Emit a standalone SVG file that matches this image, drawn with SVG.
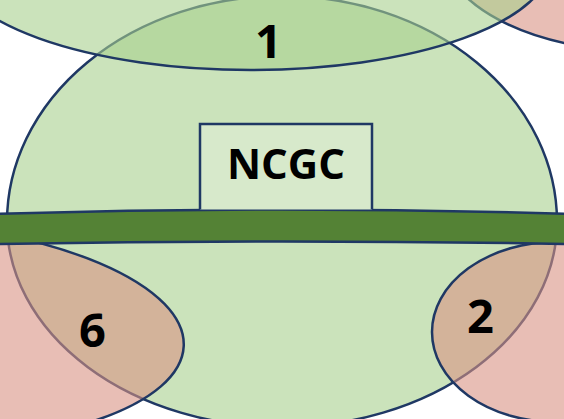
<svg xmlns="http://www.w3.org/2000/svg" width="564" height="419" viewBox="0 0 564 419">
<style>
.g{fill:#A9D18E;fill-opacity:0.6;stroke:#1F3864;stroke-width:2.5}
.r{fill:#D99384;fill-opacity:0.6;stroke:#1F3864;stroke-width:2.5}
.t{font-family:"Open Sans","Liberation Sans",sans-serif;font-weight:bold;fill:#000;text-anchor:middle}
</style>
<rect width="564" height="419" fill="#fff"/>
<g id="main-set">
<path class="g" d="M 7,222 A 275 226 0 0 1 557,222 A 275 205 0 0 1 7,222 Z"/>
</g>
<g id="set-topright">
<ellipse class="r" cx="640" cy="-56" rx="200" ry="107"/>
</g>
<g id="set-1">
<ellipse class="g" cx="251" cy="-38" rx="300" ry="108"/>
<text class="t" x="268.5" y="58" font-size="47">1</text>
</g>
<g id="set-6">
<ellipse class="r" cx="-116" cy="333" rx="300" ry="112" transform="rotate(2.5 -116 333)"/>
<text class="t" x="92.5" y="347" font-size="47">6</text>
</g>
<g id="set-2">
<ellipse class="r" cx="556" cy="332" rx="124" ry="90"/>
<text class="t" x="480.5" y="333" font-size="47">2</text>
</g>
<g id="bar">
<path d="M -5,214 Q 282,205 569,214 L 569,244 Q 282,239 -5,244 Z" fill="#548235" stroke="#1F3864" stroke-width="2.5"/>
</g>
<g id="ncgc">
<path d="M 200,209.5 L 200,124 L 372,124 L 372,209.5" fill="#D7E9CB" stroke="#1F3864" stroke-width="2.5"/>
<text class="t" x="286" y="179" font-size="42">NCGC</text>
</g>
<g id="connectors"/>
</svg>
